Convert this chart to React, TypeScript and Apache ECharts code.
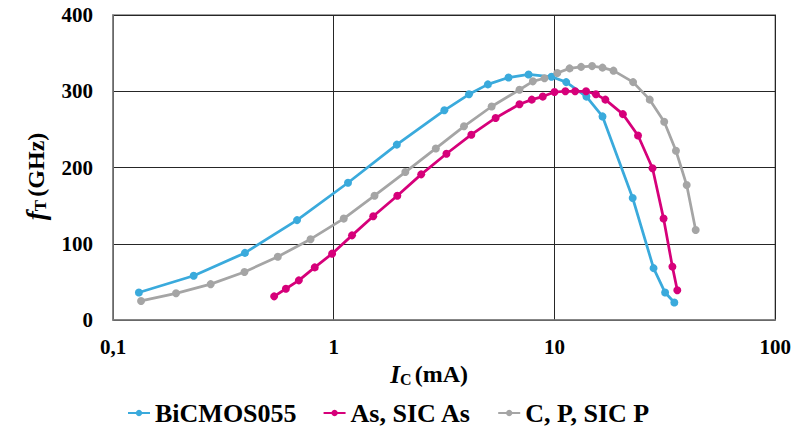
import React, { useEffect, useRef } from "react";
import * as echarts from "echarts";

const seriesNames = ["BiCMOS055", "As, SIC As", "C, P, SIC P"];
const colors = ["#3AAADC", "#D6007A", "#A5A5A5"];

const bicmosX = [0.131, 0.232, 0.396, 0.682, 1.16, 1.93, 3.17, 4.1, 4.99, 6.19, 7.63, 9.69, 11.3, 13.95, 16.5, 22.6, 28.1, 31.7, 34.9];
const bicmosY = [36, 58, 88, 131, 180, 230, 275, 296, 309, 318, 322, 319, 312, 293, 267, 160, 68, 36, 23];

const asX = [0.537, 0.607, 0.695, 0.82, 0.983, 1.21, 1.51, 1.94, 2.49, 3.24, 4.2, 5.41, 6.94, 7.89, 8.85, 10.0, 11.2, 12.4, 13.9, 15.4, 17.0, 20.4, 23.9, 27.8, 31.2, 34.2, 36.0];
const asY = [31, 41, 52, 69, 87, 111, 136, 163, 191, 218, 243, 265, 283, 289, 293, 299, 300, 300, 300, 296, 289, 270, 242, 199, 133, 70, 39];

const cpX = [0.134, 0.193, 0.277, 0.394, 0.558, 0.785, 1.11, 1.53, 2.11, 2.9, 3.89, 5.19, 6.94, 7.98, 9.01, 10.3, 11.7, 13.2, 14.8, 16.5, 18.5, 22.7, 27.0, 31.4, 35.5, 39.7, 43.6];
const cpY = [25, 35, 47, 63, 83, 106, 133, 163, 194, 225, 254, 280, 302, 313, 317, 324, 330, 332, 333, 331, 327, 312, 289, 260, 222, 177, 118];

const yTicks = [0, 100, 200, 300, 400];

const zip = (xs: number[], ys: number[]) => xs.map((x, i) => [x, ys[i]]);

export default function App() {
  const ref = useRef<HTMLDivElement>(null);
  useEffect(() => {
    if (!ref.current) return;
    const chart = echarts.init(ref.current, undefined, { renderer: "svg" });
    const font = "Liberation Serif";
    const data = [zip(bicmosX, bicmosY), zip(asX, asY), zip(cpX, cpY)];
    chart.setOption({
      animation: false,
      backgroundColor: "#ffffff",
      grid: { left: 113, right: 18, top: 15, bottom: 110, show: true, borderColor: "#7f7f7f", borderWidth: 1.5 },
      legend: {
        top: 396,
        left: 122,
        padding: [2, 5, 2, 5],
        itemWidth: 22,
        itemHeight: 8,
        itemGap: 26,
        textStyle: { fontFamily: font, fontWeight: "bold", fontSize: 26, lineHeight: 30, color: "#000" },
        data: seriesNames,
      },
      xAxis: {
        type: "log",
        logBase: 10,
        min: 0.1,
        max: 100,
        name: "{i|I}{s|C} {n|(mA)}",
        nameLocation: "middle",
        nameGap: 30,
        nameTextStyle: {
          padding: [0, 30, 0, 0],
          rich: {
            i: { fontFamily: font, fontStyle: "italic", fontWeight: "bold", fontSize: 25, color: "#000" },
            s: { fontFamily: font, fontWeight: "bold", fontSize: 16, color: "#000", verticalAlign: "bottom", padding: [10, 0, 0, 0] },
            n: { fontFamily: font, fontWeight: "bold", fontSize: 24, color: "#000" },
          },
        },
        axisLine: { show: true, lineStyle: { color: "#7f7f7f", width: 1.5 } },
        axisTick: { show: false },
        minorTick: { show: false },
        axisLabel: {
          margin: 16,
          fontFamily: font,
          fontWeight: "bold",
          fontSize: 21,
          color: "#000",
          formatter: (v: number) => (v < 1 ? "0,1" : String(Math.round(v))),
        },
        splitLine: { show: true, lineStyle: { color: "#262626", width: 1 } },
      },
      yAxis: {
        type: "value",
        min: 0,
        max: 400,
        interval: 100,
        name: "{i|f}{s|T} {n|(GHz)}",
        nameLocation: "middle",
        nameGap: 64,
        nameRotate: 90,
        nameTextStyle: {
          padding: [0, 18, 0, 0],
          rich: {
            i: { fontFamily: font, fontStyle: "italic", fontWeight: "bold", fontSize: 27, color: "#000" },
            s: { fontFamily: font, fontWeight: "bold", fontSize: 17, color: "#000", verticalAlign: "bottom", padding: [10, 0, 0, 0] },
            n: { fontFamily: font, fontWeight: "bold", fontSize: 24, color: "#000" },
          },
        },
        axisLine: { show: true, lineStyle: { color: "#7f7f7f", width: 1.5 } },
        axisTick: { show: false },
        axisLabel: {
          margin: 20,
          fontFamily: font,
          fontWeight: "bold",
          fontSize: 21,
          color: "#000",
          formatter: (v: number) => (yTicks.includes(v) ? String(v) : ""),
        },
        splitLine: { show: true, lineStyle: { color: "#262626", width: 1 } },
      },
      series: seriesNames.map((name, i) => ({
        name,
        type: "line",
        data: data[i],
        symbol: "circle",
        symbolSize: 8,
        showSymbol: true,
        color: colors[i],
        lineStyle: { width: 2.75, color: colors[i] },
        itemStyle: { color: colors[i] },
      })),
    });
    return () => chart.dispose();
  }, []);
  return <div ref={ref} style={{ width: 794, height: 430, position: "absolute", left: 0, top: 0 }} />;
}
